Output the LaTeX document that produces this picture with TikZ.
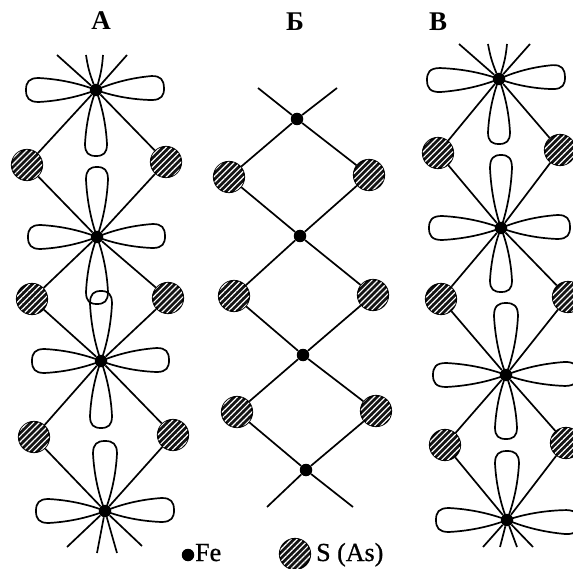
\documentclass[tikz,border=0pt]{standalone}
\usepackage{fontspec}
\setmainfont{Liberation Serif}
\usetikzlibrary{patterns.meta}
\tikzset{
  x=1pt,y=-1pt,
  featom/.style={circle,fill=black,inner sep=0pt,minimum size=12.5pt},
  satom/.style={circle,draw=black,line width=1.7pt,fill=black!92,inner sep=0pt,minimum size=30.5pt,
    postaction={pattern={Lines[angle=45,distance=4.2pt,line width=1.2pt]},pattern color=white}},
  bond/.style={line width=1.7pt},
  lobeline/.style={line width=1.7pt,line join=round},
  head/.style={font=\fontsize{27}{27}\selectfont\bfseries},
  legend/.style={font=\fontsize{26}{26}\selectfont\addfontfeature{FakeBold=0.8}}
}
\newcommand{\lobe}[4]{%
  \begin{scope}[shift={(#1)},rotate=#2]
    \draw[lobeline] (0,0) .. controls (.22*#3,.5*#4) and (.5*#3,.9*#4) .. (.82*#3,#4)
      .. controls (.96*#3,#4) and (#3,.65*#4) .. (#3,0)
      .. controls (#3,-.65*#4) and (.96*#3,-#4) .. (.82*#3,-#4)
      .. controls (.5*#3,-.9*#4) and (.22*#3,-.5*#4) .. (0,0);
  \end{scope}}
\begin{document}
\begin{tikzpicture}
\useasboundingbox (0,0) rectangle (573,569);
\clip (0,0) rectangle (573,569);
\fill[white] (0,0) rectangle (573,569);
% headings
\node[head] (ha) at (101,21) {А};
\node[head] (hb) at (295,22) {Б};
\node[head] (hc) at (438,22) {В};
% column A
\coordinate (a1) at (96,90);
\coordinate (a2) at (97,237);
\coordinate (a3) at (101,361);
\coordinate (a4) at (105,511);
\lobe{a1}{180}{70}{12}\lobe{a1}{2}{68}{12}\lobe{a1}{270}{66}{11}
\lobe{a2}{90}{70}{11}\lobe{a2}{180}{69}{12}\lobe{a2}{1}{68}{12}\lobe{a2}{270}{67}{11}
\lobe{a3}{90}{70}{11}\lobe{a3}{180}{69}{12}\lobe{a3}{1}{68}{12}\lobe{a3}{270}{67}{11}
\lobe{a4}{90}{70}{12}\lobe{a4}{180}{69}{12}\lobe{a4}{1}{69}{12}
\node[featom] (fa1) at (a1) {};
\node[featom] (fa2) at (a2) {};
\node[featom] (fa3) at (a3) {};
\node[featom] (fa4) at (a4) {};
\node[satom] (sa1) at (27,165) {};
\node[satom] (sa2) at (166,162) {};
\node[satom] (sa3) at (32,299) {};
\node[satom] (sa4) at (168,298) {};
\node[satom] (sa5) at (34,437) {};
\node[satom] (sa6) at (173,435) {};
\foreach \f/\s in {fa1/sa1,fa1/sa2,fa2/sa1,fa2/sa2,fa2/sa3,fa2/sa4,fa3/sa3,fa3/sa4,fa3/sa5,fa3/sa6,fa4/sa5,fa4/sa6}
  \draw[bond] (\f) -- (\s);
\coordinate (ea1) at (57,55); \coordinate (ea2) at (86,55); \coordinate (ea3) at (103,55); \coordinate (ea4) at (127,55);
\coordinate (ea5) at (67,547); \coordinate (ea6) at (97,553); \coordinate (ea7) at (117,553); \coordinate (ea8) at (142,546);
\draw[bond] (fa1) -- (ea1);
\draw[bond] (fa1) to[bend left=6] (ea2);
\draw[bond] (fa1) to[bend right=6] (ea3);
\draw[bond] (fa1) -- (ea4);
\draw[bond] (fa4) -- (ea5);
\draw[bond] (fa4) -- (ea6);
\draw[bond] (fa4) -- (ea7);
\draw[bond] (fa4) -- (ea8);
% column B
\node[featom] (fb1) at (297,119) {};
\node[featom] (fb2) at (300,236) {};
\node[featom] (fb3) at (303,355) {};
\node[featom] (fb4) at (306,470) {};
\node[satom] (sb1) at (229,177) {};
\node[satom] (sb2) at (369,175) {};
\node[satom] (sb3) at (234,296) {};
\node[satom] (sb4) at (373,295) {};
\node[satom] (sb5) at (237,412) {};
\node[satom] (sb6) at (376,411) {};
\foreach \f/\s in {fb1/sb1,fb1/sb2,fb2/sb1,fb2/sb2,fb2/sb3,fb2/sb4,fb3/sb3,fb3/sb4,fb3/sb5,fb3/sb6,fb4/sb5,fb4/sb6}
  \draw[bond] (\f) -- (\s);
\coordinate (eb1) at (258,88); \coordinate (eb2) at (337,88);
\coordinate (eb3) at (267,507); \coordinate (eb4) at (353,507);
\draw[bond] (fb1) -- (eb1);
\draw[bond] (fb1) -- (eb2);
\draw[bond] (fb4) -- (eb3);
\draw[bond] (fb4) -- (eb4);
% column C
\coordinate (c1) at (499,79);
\coordinate (c2) at (501,228);
\coordinate (c3) at (506,375);
\coordinate (c4) at (507,520);
\lobe{c1}{181}{72}{12}\lobe{c1}{2}{66}{12}\lobe{c1}{270}{65}{11}
\lobe{c2}{90}{73}{11}\lobe{c2}{180}{72}{12}\lobe{c2}{1}{69}{12}\lobe{c2}{270}{64}{11}
\lobe{c3}{90}{72}{12}\lobe{c3}{180}{73}{12}\lobe{c3}{1}{72}{12}\lobe{c3}{270}{64}{11}
\lobe{c4}{90}{69}{12}\lobe{c4}{180}{71}{12}\lobe{c4}{-2}{72}{12}
\node[featom] (fc1) at (c1) {};
\node[featom] (fc2) at (c2) {};
\node[featom] (fc3) at (c3) {};
\node[featom] (fc4) at (c4) {};
\node[satom] (sc1) at (438,153) {};
\node[satom] (sc2) at (560,150) {};
\node[satom] (sc3) at (441,299) {};
\node[satom] (sc4) at (568,297) {};
\node[satom] (sc5) at (445,445) {};
\node[satom] (sc6) at (566,443) {};
\foreach \f/\s in {fc1/sc1,fc1/sc2,fc2/sc1,fc2/sc2,fc2/sc3,fc2/sc4,fc3/sc3,fc3/sc4,fc3/sc5,fc3/sc6,fc4/sc5,fc4/sc6}
  \draw[bond] (\f) -- (\s);
\coordinate (ec1) at (459,44); \coordinate (ec2) at (488,44); \coordinate (ec3) at (507,44); \coordinate (ec4) at (530,44);
\coordinate (ec5) at (483,547); \coordinate (ec6) at (500,547); \coordinate (ec7) at (517,547); \coordinate (ec8) at (533,547);
\draw[bond] (fc1) -- (ec1);
\draw[bond] (fc1) to[bend left=6] (ec2);
\draw[bond] (fc1) to[bend right=6] (ec3);
\draw[bond] (fc1) -- (ec4);
\draw[bond] (fc4) -- (ec5);
\draw[bond] (fc4) -- (ec6);
\draw[bond] (fc4) -- (ec7);
\draw[bond] (fc4) -- (ec8);
% legend
\node[featom] (lf) at (188,555) {};
\node[legend,anchor=base west,inner sep=0pt] (lft) at (195,561) {Fe};
\node[satom] (ls) at (295,554) {};
\node[legend,anchor=base west,inner sep=0pt] (lst) at (316,561) {S (As)};
\end{tikzpicture}
\end{document}
